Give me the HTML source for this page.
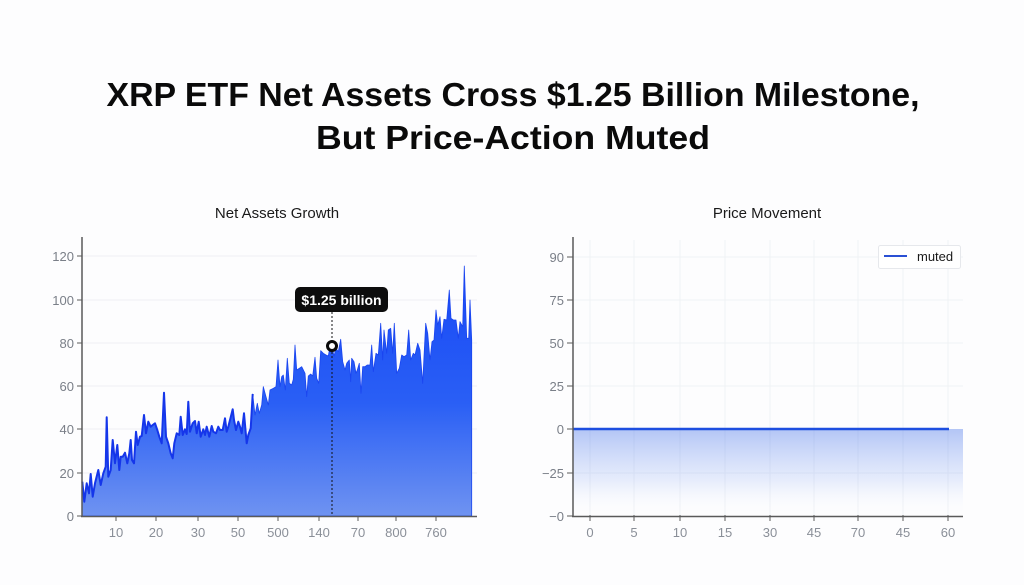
<!DOCTYPE html>
<html><head><meta charset="utf-8"><style>
html,body{margin:0;padding:0;background:#fdfdfe;}
svg{display:block;}
</style></head><body>
<svg width="1024" height="585" viewBox="0 0 1024 585" xmlns="http://www.w3.org/2000/svg" font-family="Liberation Sans, sans-serif">
<defs>
<linearGradient id="gL" x1="0" y1="266" x2="0" y2="516" gradientUnits="userSpaceOnUse">
<stop offset="0" stop-color="#1748f6"/>
<stop offset="0.55" stop-color="#2a5ff5"/>
<stop offset="1" stop-color="#6f93f1"/>
</linearGradient>
<linearGradient id="gR" x1="0" y1="429" x2="0" y2="516" gradientUnits="userSpaceOnUse">
<stop offset="0" stop-color="#3a6ae8" stop-opacity="0.38"/>
<stop offset="0.6" stop-color="#6a90f0" stop-opacity="0.15"/>
<stop offset="1" stop-color="#ffffff" stop-opacity="0"/>
</linearGradient>
</defs>
<rect width="1024" height="585" fill="#fdfdfe"/>

<!-- Title -->
<text x="513" y="106" text-anchor="middle" font-size="33" font-weight="bold" fill="#0a0a0a" textLength="813" lengthAdjust="spacingAndGlyphs">XRP ETF Net Assets Cross $1.25 Billion Milestone,</text>
<text x="513" y="149" text-anchor="middle" font-size="33" font-weight="bold" fill="#0a0a0a" textLength="394" lengthAdjust="spacingAndGlyphs">But Price-Action Muted</text>

<text x="277" y="218" text-anchor="middle" font-size="15" fill="#1a1a1a">Net Assets Growth</text>
<text x="767" y="218" text-anchor="middle" font-size="15" fill="#1a1a1a">Price Movement</text>

<!-- LEFT CHART grid -->
<g stroke="#eef0f4" stroke-width="1">
<line x1="82" y1="256" x2="477" y2="256"/>
<line x1="82" y1="300" x2="477" y2="300"/>
<line x1="82" y1="343" x2="477" y2="343"/>
<line x1="82" y1="386" x2="477" y2="386"/>
<line x1="82" y1="429" x2="477" y2="429"/>
<line x1="82" y1="473" x2="477" y2="473"/>
</g>

<!-- Left data -->
<path fill="url(#gL)" stroke="#1a45f0" stroke-width="0.8" stroke-linejoin="round" d="M82,516 L82.3,481.7 L84.3,501.7 L86.7,483.3 L89,493.3 L90.7,474 L92.7,496.7 L95,483.3 L98.3,470 L100.7,485 L103.3,473.3 L105.7,466.7 L106.7,417.3 L108.3,476.7 L110.7,470 L112.7,440 L115,463.3 L117.3,445 L119.3,470 L120.7,456.7 L122.7,456.7 L125,452.7 L127.3,463.3 L129.3,453.3 L130.7,440 L132,460 L134,463.3 L136,431.7 L137.7,445 L140,436.7 L141.7,436 L144,415 L146,433.3 L148.3,421.7 L150.7,426.7 L152.7,425 L155,423.3 L157.3,430 L159.3,436.7 L161.7,443.3 L164,392.7 L166,436.7 L168.3,443.3 L170.7,453.3 L172.7,458.3 L174.3,443.3 L176.7,433.3 L179.3,435 L180.7,416.7 L182.7,435 L185,429.3 L186.7,434 L188.3,401.7 L190,431.7 L192.7,423.3 L195,421 L196.7,433.3 L198.7,421.7 L200.7,436.7 L203.3,429.3 L205,435 L206.7,426.7 L209.3,436.7 L211.7,426 L213.3,431.7 L216,433.3 L218.3,426.7 L220,430 L222.7,430 L225,418.3 L226.7,431.7 L228.3,426.7 L232.7,409.3 L234,420 L236,430 L238.3,421.7 L240,426.7 L241.7,433.3 L244,413.3 L246.7,443.3 L248.3,435 L250.7,428.3 L252.7,394 L255,415 L257.3,403.3 L259.3,413.3 L261.7,405 L263.3,386.7 L266,396.7 L268.3,405 L270,390 L273.3,388.3 L276,386.7 L278,360 L280,386.7 L281.7,376.7 L283.3,375 L285.3,390 L287.3,358.3 L289.3,383.3 L291.7,385 L293.3,379.3 L295,345 L296.7,370 L299.3,368.3 L301.7,366.7 L305,373.3 L306.7,396.7 L308.3,376 L310.7,374 L312.7,376 L315,357.3 L316.7,378.3 L318.7,383.3 L320.7,350.7 L323.3,353.3 L326,355 L328.3,356 L330,346.7 L331.7,345 L334,356 L336,348.3 L338.3,351.7 L340.7,339.3 L342.7,361.7 L345,370 L346.7,363.3 L349.3,360 L350.7,381.7 L351.7,358.3 L354,361.7 L356,373.3 L357.3,370 L359.3,363.3 L361,393.3 L362.7,366.7 L365,366.7 L367.3,365 L370,365 L371.7,345 L373.3,371.7 L376,353.3 L378.3,355 L380.7,323.3 L382.7,360 L384,330 L386.7,353.3 L388.3,330 L390.7,328.3 L392.7,353.3 L394.3,323.3 L396.7,373.3 L399.3,368.3 L401.7,355 L404,356.7 L406.7,355 L408.7,330 L410.7,360 L413.3,353.3 L415,355 L417.7,343.3 L420,350 L422.7,383.3 L424,356.7 L425.7,323.3 L427.7,333.3 L430,360 L432,341.7 L434,340 L436,310 L437.7,325 L440,316.7 L441.7,338.3 L444,319.3 L446.7,320 L449.3,290 L451,318.3 L453.3,320 L456,320 L458.3,338.3 L460,321.7 L462.7,326.7 L464.3,266 L466.7,338.3 L468.7,338.3 L470,300 L471.7,340 L471.7,516 Z"/>
<polyline fill="none" stroke="#1536ea" stroke-width="2" stroke-linejoin="round" points="82.3,481.7 84.3,501.7 86.7,483.3 89,493.3 90.7,474 92.7,496.7 95,483.3 98.3,470 100.7,485 103.3,473.3 105.7,466.7 106.7,417.3 108.3,476.7 110.7,470 112.7,440 115,463.3 117.3,445 119.3,470 120.7,456.7 122.7,456.7 125,452.7 127.3,463.3 129.3,453.3 130.7,440 132,460 134,463.3 136,431.7 137.7,445 140,436.7 141.7,436 144,415 146,433.3 148.3,421.7 150.7,426.7 152.7,425 155,423.3 157.3,430 159.3,436.7 161.7,443.3 164,392.7 166,436.7 168.3,443.3 170.7,453.3 172.7,458.3 174.3,443.3 176.7,433.3 179.3,435 180.7,416.7 182.7,435 185,429.3 186.7,434 188.3,401.7 190,431.7 192.7,423.3 195,421 196.7,433.3 198.7,421.7 200.7,436.7 203.3,429.3 205,435 206.7,426.7 209.3,436.7 211.7,426 213.3,431.7 216,433.3 218.3,426.7 220,430 222.7,430 225,418.3 226.7,431.7 228.3,426.7 232.7,409.3 234,420 236,430 238.3,421.7 240,426.7 241.7,433.3 244,413.3 246.7,443.3 248.3,435 250.7,428.3 252.7,394"/>

<!-- Left axes -->
<line x1="82" y1="237" x2="82" y2="517" stroke="#5a5a5a" stroke-width="1.5"/>
<line x1="81" y1="516.5" x2="477" y2="516.5" stroke="#5a5a5a" stroke-width="1.5"/>
<g stroke="#5a5a5a" stroke-width="1">
<line x1="77" y1="256" x2="82" y2="256"/>
<line x1="77" y1="300" x2="82" y2="300"/>
<line x1="77" y1="343" x2="82" y2="343"/>
<line x1="77" y1="386" x2="82" y2="386"/>
<line x1="77" y1="429" x2="82" y2="429"/>
<line x1="77" y1="473" x2="82" y2="473"/>
<line x1="77" y1="516" x2="82" y2="516"/>
<line x1="116" y1="516" x2="116" y2="521"/>
<line x1="156" y1="516" x2="156" y2="521"/>
<line x1="198" y1="516" x2="198" y2="521"/>
<line x1="238" y1="516" x2="238" y2="521"/>
<line x1="278" y1="516" x2="278" y2="521"/>
<line x1="319" y1="516" x2="319" y2="521"/>
<line x1="358" y1="516" x2="358" y2="521"/>
<line x1="396" y1="516" x2="396" y2="521"/>
<line x1="436" y1="516" x2="436" y2="521"/>
</g>
<g font-size="13" fill="#7a7f88" text-anchor="end">
<text x="74" y="261">120</text>
<text x="74" y="305">100</text>
<text x="74" y="348">80</text>
<text x="74" y="391">60</text>
<text x="74" y="434">40</text>
<text x="74" y="478">20</text>
<text x="74" y="521">0</text>
</g>
<g font-size="13" fill="#8a8f98" text-anchor="middle">
<text x="116" y="537">10</text>
<text x="156" y="537">20</text>
<text x="198" y="537">30</text>
<text x="238" y="537">50</text>
<text x="278" y="537">500</text>
<text x="319" y="537">140</text>
<text x="358" y="537">70</text>
<text x="396" y="537">800</text>
<text x="436" y="537">760</text>
</g>

<!-- Annotation -->
<line x1="332" y1="312" x2="332" y2="516" stroke="#111" stroke-width="1" stroke-dasharray="2,2"/>
<circle cx="332" cy="346" r="4.5" fill="#fff" stroke="#0a0a0a" stroke-width="3"/>
<rect x="295" y="287" width="93" height="25" rx="5" fill="#0d0d0d"/>
<text x="341.5" y="305" text-anchor="middle" font-size="14" font-weight="bold" fill="#fff">$1.25 billion</text>

<!-- RIGHT CHART grid -->
<g stroke="#f0f2f5" stroke-width="1">
<line x1="573" y1="257" x2="963" y2="257"/>
<line x1="573" y1="300" x2="963" y2="300"/>
<line x1="573" y1="343" x2="963" y2="343"/>
<line x1="573" y1="386" x2="963" y2="386"/>
<line x1="573" y1="473" x2="963" y2="473"/>
<line x1="590" y1="240" x2="590" y2="516"/>
<line x1="634" y1="240" x2="634" y2="516"/>
<line x1="680" y1="240" x2="680" y2="516"/>
<line x1="725" y1="240" x2="725" y2="516"/>
<line x1="770" y1="240" x2="770" y2="516"/>
<line x1="814" y1="240" x2="814" y2="516"/>
<line x1="858" y1="240" x2="858" y2="516"/>
<line x1="903" y1="240" x2="903" y2="516"/>
<line x1="948" y1="240" x2="948" y2="516"/>
</g>
<rect x="573" y="429" width="390" height="87" fill="url(#gR)"/>
<line x1="573" y1="429" x2="949" y2="429" stroke="#1d4ee0" stroke-width="2.5"/>

<line x1="573" y1="237" x2="573" y2="517" stroke="#5a5a5a" stroke-width="1.5"/>
<line x1="572" y1="516.5" x2="963" y2="516.5" stroke="#5a5a5a" stroke-width="1.5"/>
<g stroke="#5a5a5a" stroke-width="1">
<line x1="567" y1="257" x2="573" y2="257"/>
<line x1="567" y1="300" x2="573" y2="300"/>
<line x1="567" y1="343" x2="573" y2="343"/>
<line x1="567" y1="386" x2="573" y2="386"/>
<line x1="567" y1="429" x2="573" y2="429"/>
<line x1="567" y1="473" x2="573" y2="473"/>
<line x1="567" y1="516" x2="573" y2="516"/>
<line x1="590" y1="515" x2="590" y2="521"/>
<line x1="634" y1="515" x2="634" y2="521"/>
<line x1="680" y1="515" x2="680" y2="521"/>
<line x1="725" y1="515" x2="725" y2="521"/>
<line x1="770" y1="515" x2="770" y2="521"/>
<line x1="814" y1="515" x2="814" y2="521"/>
<line x1="858" y1="515" x2="858" y2="521"/>
<line x1="903" y1="515" x2="903" y2="521"/>
<line x1="948" y1="515" x2="948" y2="521"/>
</g>
<g font-size="13" fill="#7a7f88" text-anchor="end">
<text x="564" y="262">90</text>
<text x="564" y="305">75</text>
<text x="564" y="348">50</text>
<text x="564" y="391">25</text>
<text x="564" y="434">0</text>
<text x="564" y="478">−25</text>
<text x="564" y="521">−0</text>
</g>
<g font-size="13" fill="#8a8f98" text-anchor="middle">
<text x="590" y="537">0</text>
<text x="634" y="537">5</text>
<text x="680" y="537">10</text>
<text x="725" y="537">15</text>
<text x="770" y="537">30</text>
<text x="814" y="537">45</text>
<text x="858" y="537">70</text>
<text x="903" y="537">45</text>
<text x="948" y="537">60</text>
</g>

<!-- Legend -->
<rect x="878.5" y="245.5" width="82" height="23" rx="2" fill="#fff" stroke="#e6e8ec" stroke-width="1"/>
<line x1="884" y1="256" x2="907" y2="256" stroke="#2a50d4" stroke-width="2"/>
<text x="917" y="261" font-size="13" fill="#1a1a1a">muted</text>
</svg>
</body></html>
